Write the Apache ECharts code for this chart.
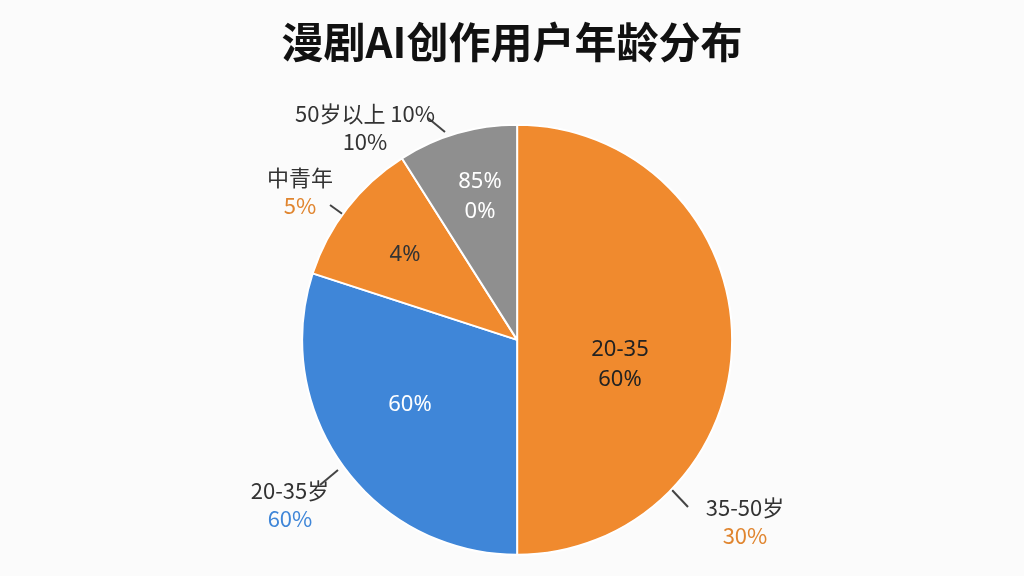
<!DOCTYPE html>
<html>
<head>
<meta charset="utf-8">
<script src="https://cdn.jsdelivr.net/npm/echarts@6/dist/echarts.min.js"></script>
<style>html,body{margin:0;background:#fbfbfb}#c{width:1024px;height:576px}</style>
</head>
<body>
<div id="c"></div>
<script>
const values = [50, 30, 11, 9];
const innerLabels = ["20-35\n60%", "60%", "4%", "85%\n0%"];
const innerColors = ["#222222", "#ffffff", "#333333", "#ffffff"];
const outerNames = ["35-50岁", "20-35岁", "中青年", "50岁以上 10%"];
const outerPcts = ["30%", "60%", "5%", "10%"];
const colors = ["#F08A2E", "#3F86D8", "#F08A2E", "#8F8F8F"];
const pctColors = ["#E0852F", "#3F86D8", "#E0852F", "#333333"];

const innerPos = [[620, 365], [410, 405], [405, 255], [480, 197]];
const outerPos = [[745, 522], [290, 505], [300, 192], [365, 128]];
const lineEnd = [[[688, 507], [672, 490]], [[320, 485], [338, 470]], [[330, 205], [348, 218]], [[428, 118], [445, 132]]];

const chart = echarts.init(document.getElementById("c"));
const base = {
  type: "pie",
  center: ["50.5%", "59%"],
  radius: 215,
  startAngle: 90,
  silent: true,
  itemStyle: { borderColor: "#ffffff", borderWidth: 2 }
};
chart.setOption({
  animation: false,
  title: { text: "漫剧AI创作用户年龄分布", left: "center", top: 16,
    textStyle: { fontSize: 42, fontWeight: "bold", color: "#111", fontFamily: "Noto Sans CJK SC" } },
  series: [
    Object.assign({}, base, {
      data: values.map((v, i) => ({ value: v, name: innerLabels[i], itemStyle: { color: colors[i] },
        label: { color: innerColors[i] } })),
      label: { position: "inside", formatter: "{b}", fontSize: 22, lineHeight: 30, fontFamily: "Noto Sans" },
      labelLayout: p => ({ x: innerPos[p.dataIndex][0], y: innerPos[p.dataIndex][1], align: "center", verticalAlign: "middle" })
    }),
    Object.assign({}, base, {
      itemStyle: { color: "transparent", borderWidth: 0 },
      data: values.map((v, i) => ({ value: v, name: outerNames[i],
        label: { formatter: "{a|" + outerNames[i] + "}\n{p|" + outerPcts[i] + "}",
          rich: { a: { fontSize: 22, color: "#333", lineHeight: 28 }, p: { fontSize: 22, lineHeight: 28, color: pctColors[i] } } } })),
      label: { position: "outside", fontFamily: "Noto Sans CJK SC" },
      labelLine: { show: true, lineStyle: { color: "#444", width: 2 } },
      labelLayout: p => ({ x: outerPos[p.dataIndex][0], y: outerPos[p.dataIndex][1], align: "center", verticalAlign: "middle",
        labelLinePoints: [lineEnd[p.dataIndex][0], lineEnd[p.dataIndex][0], lineEnd[p.dataIndex][1]] })
    })
  ]
});
</script>
</body>
</html>
